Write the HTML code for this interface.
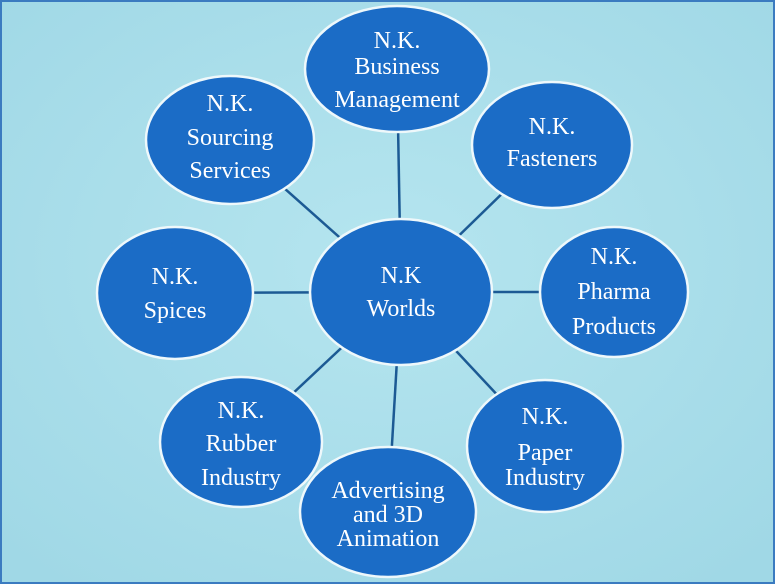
<!DOCTYPE html>
<html><head><meta charset="utf-8"><style>
html,body{margin:0;padding:0;width:775px;height:584px;overflow:hidden;background:#a9dde9}
svg{display:block}
text{font-family:"Liberation Serif",serif;font-size:24px;fill:#fff;text-anchor:middle}
</style></head><body>
<svg width="775" height="584" viewBox="0 0 775 584">
<defs>
<radialGradient id="bg" cx="50%" cy="45%" r="70%">
<stop offset="0" stop-color="#b5e5ef"/><stop offset="1" stop-color="#a0d8e6"/>
</radialGradient>
</defs>
<rect x="0" y="0" width="775" height="584" fill="url(#bg)"/>
<rect x="1" y="1" width="773" height="582" fill="none" stroke="#3b7bc0" stroke-width="2"/>
<g stroke="#1c5a94" stroke-width="2.5">
<line x1="401" y1="292" x2="397" y2="69"/>
<line x1="401" y1="292" x2="230" y2="140"/>
<line x1="401" y1="292" x2="552" y2="145"/>
<line x1="401" y1="292" x2="175" y2="293"/>
<line x1="401" y1="292" x2="614" y2="292"/>
<line x1="401" y1="292" x2="241" y2="442"/>
<line x1="401" y1="292" x2="545" y2="446"/>
<line x1="401" y1="292" x2="388" y2="512"/>
</g>
<g fill="#1b6cc6" stroke="#eef8fb" stroke-width="2.5">
<ellipse cx="401" cy="292" rx="91" ry="73"/>
<ellipse cx="397" cy="69" rx="92" ry="63"/>
<ellipse cx="230" cy="140" rx="84" ry="64"/>
<ellipse cx="552" cy="145" rx="80" ry="63"/>
<ellipse cx="175" cy="293" rx="78" ry="66"/>
<ellipse cx="614" cy="292" rx="74" ry="65"/>
<ellipse cx="241" cy="442" rx="81" ry="65"/>
<ellipse cx="545" cy="446" rx="78" ry="66"/>
<ellipse cx="388" cy="512" rx="88" ry="65"/>
</g>
<text x="401" y="283">N.K</text><text x="401" y="316">Worlds</text>
<text x="397" y="48">N.K.</text><text x="397" y="74">Business</text><text x="397" y="107">Management</text>
<text x="230" y="111">N.K.</text><text x="230" y="145">Sourcing</text><text x="230" y="178">Services</text>
<text x="552" y="134">N.K.</text><text x="552" y="166">Fasteners</text>
<text x="175" y="284">N.K.</text><text x="175" y="318">Spices</text>
<text x="614" y="264">N.K.</text><text x="614" y="299">Pharma</text><text x="614" y="334">Products</text>
<text x="241" y="418">N.K.</text><text x="241" y="451">Rubber</text><text x="241" y="485">Industry</text>
<text x="545" y="424">N.K.</text><text x="545" y="460">Paper</text><text x="545" y="485">Industry</text>
<text x="388" y="498">Advertising</text><text x="388" y="522">and 3D</text><text x="388" y="546">Animation</text>
</svg>
</body></html>
